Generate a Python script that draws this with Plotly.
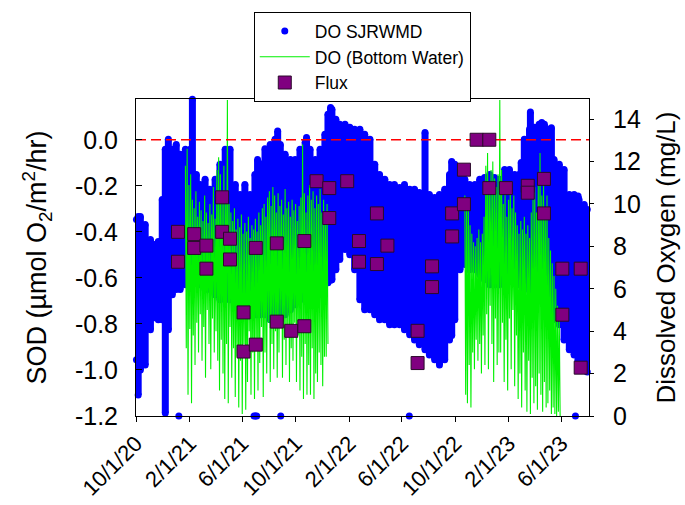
import pandas as pd
import plotly.graph_objects as go

# ---- DO SJRWMD: min / max dissolved oxygen (mg/L) per sampling date ----
sjr_dates = [
    "2020-10-02", "2020-10-06", "2020-10-11", "2020-10-22", "2020-11-03", "2020-11-12", "2020-11-21", "2020-11-30", "2020-12-07", "2020-12-14",
    "2020-12-23", "2021-01-01", "2021-01-10", "2021-01-22", "2021-02-02", "2021-02-07", "2021-02-16", "2021-02-25", "2021-03-08", "2021-03-19",
    "2021-03-31", "2021-04-11", "2021-04-23", "2021-05-04", "2021-05-16", "2021-05-27", "2021-06-07", "2021-06-19", "2021-06-30", "2021-07-06",
    "2021-07-12", "2021-07-23", "2021-08-04", "2021-08-15", "2021-08-21", "2021-08-27", "2021-09-07", "2021-09-19", "2021-09-30", "2021-10-11",
    "2021-10-23", "2021-10-26", "2021-11-03", "2021-11-15", "2021-11-26", "2021-12-07", "2021-12-14", "2021-12-20", "2021-12-23", "2022-01-01",
    "2022-01-10", "2022-01-22", "2022-02-02", "2022-02-13", "2022-02-25", "2022-03-08", "2022-03-20", "2022-03-31", "2022-04-11", "2022-04-23",
    "2022-05-04", "2022-05-15", "2022-05-27", "2022-06-07", "2022-06-19", "2022-06-30", "2022-07-11", "2022-07-24", "2022-08-03", "2022-08-15",
    "2022-08-26", "2022-09-07", "2022-09-18", "2022-09-23", "2022-09-30", "2022-10-12", "2022-10-23", "2022-11-03", "2022-11-15", "2022-11-26",
    "2022-12-07", "2022-12-19", "2022-12-30", "2023-01-10", "2023-01-22", "2023-02-02", "2023-02-14", "2023-02-25", "2023-03-01", "2023-03-08",
    "2023-03-20", "2023-03-22", "2023-03-31", "2023-04-11", "2023-04-17", "2023-04-23", "2023-05-04", "2023-05-09", "2023-05-15", "2023-05-27",
    "2023-06-07", "2023-06-19", "2023-06-30", "2023-07-09", "2023-07-11", "2023-07-23", "2023-07-30",
]
sjr_low = [
    2.65, 0.99, 2.17, 2.41, 4.07, 4.63, 4.54, 4.54, 0.14, 4.07,
    5.72, 5.96, 5.96, 6.19, 6.90, 6.90, 6.43, 6.19, 5.96, 5.96,
    5.72, 5.48, 5.48, 5.48, 5.25, 5.01, 5.01, 4.78, 4.78, 4.78,
    4.78, 4.78, 4.54, 4.54, 4.54, 4.54, 4.78, 5.01, 5.25, 5.48,
    5.48, 5.48, 5.72, 5.96, 6.19, 6.29, 6.29, 6.40, 6.43, 6.90,
    7.38, 7.85, 7.61, 6.90, 5.48, 5.01, 5.01, 4.78, 4.54, 4.54,
    4.30, 4.30, 4.30, 4.07, 3.83, 3.59, 3.36, 3.12, 2.88, 2.65,
    2.41, 2.65, 3.59, 3.80, 4.54, 6.90, 7.14, 6.90, 6.90, 6.67,
    6.43, 6.19, 6.19, 6.19, 6.19, 6.43, 6.43, 6.19, 6.19, 5.96,
    5.96, 5.96, 5.72, 5.48, 5.40, 5.25, 5.01, 4.80, 4.54, 4.30,
    3.59, 3.12, 2.88, 2.60, 2.41, 2.17, 2.08,
]
sjr_high = [
    9.27, 9.41, 9.41, 9.03, 8.32, 8.09, 8.23, 10.21, 12.58, 13.05,
    12.58, 12.81, 12.34, 12.58, 12.58, 14.94, 11.39, 10.92, 11.16, 10.69,
    11.16, 11.87, 12.58, 12.58, 10.92, 10.45, 10.92, 10.45, 11.39, 12.10,
    11.90, 12.60, 12.80, 13.05, 13.44, 12.81, 12.34, 12.10, 12.10, 12.58,
    12.91, 13.13, 12.58, 12.10, 12.58, 13.29, 14.23, 14.55, 14.47, 14.00,
    13.76, 13.76, 13.62, 13.52, 13.52, 13.29, 13.05, 11.87, 11.39, 11.16,
    10.92, 10.92, 10.78, 10.92, 10.69, 10.69, 10.54, 13.37, 10.45, 10.31,
    10.45, 10.69, 11.39, 12.00, 11.87, 11.63, 11.16, 10.92, 10.92, 11.16,
    11.25, 11.39, 11.25, 11.16, 11.63, 11.63, 11.39, 11.40, 11.95, 13.05,
    13.52, 14.34, 13.62, 13.76, 13.84, 13.76, 13.52, 13.60, 12.10, 11.87,
    11.63, 10.45, 10.45, 10.37, 10.21, 9.98, 9.74,
]

# isolated SJRWMD readings at the sensor floor
sjr_floor_dates = ["2021-01-07", "2021-06-28", "2021-07-01", "2021-07-04", "2021-08-28", "2022-06-18", "2023-07-03"]
sjr_floor_do = [0.0, 0.0, 0.0, 0.0, 0.0, 0.0, 0.0]

# ---- DO (Bottom Water): logger record, one reading every 2 days ----
bw_step = "2D"
bw1_start = "2021-01-22"
bw1_do = [
    11.8, 3.2, 12.6, 1.0, 10.9, 4.1, 11.4, 0.6, 10.2, 3.8, 9.8, 2.4, 10.6, 4.4, 9.4, 3.0, 10.1, 4.8, 9.7, 2.6,
    9.2, 4.2, 10.4, 1.8, 9.6, 5.0, 9.1, 3.4, 10.0, 2.2, 9.5, 4.6, 10.8, 3.0, 9.3, 4.0, 11.6, 2.6, 12.2, 1.2,
    11.4, 3.6, 10.6, 2.0, 11.8, 0.8, 10.2, 3.4, 14.9, 0.6, 10.0, 4.2, 9.6, 1.8, 9.2, 3.2, 9.8, 0.9, 8.8, 2.8,
    9.3, 0.4, 8.9, 2.6, 9.5, 0.1, 8.6, 3.4, 9.1, 0.3, 8.7, 1.6, 9.4, 4.0, 8.4, 1.0, 9.0, 3.0, 8.8, 0.8,
    9.3, 3.6, 8.7, 1.2, 9.6, 2.5, 9.0, 4.2, 9.8, 0.9, 10.0, 3.0, 9.4, 2.0, 10.3, 4.4, 10.6, 1.6, 9.9, 3.4,
    10.8, 2.2, 10.4, 4.0, 9.6, 1.8, 10.5, 3.0, 9.9, 4.6, 10.2, 1.8, 9.5, 3.6, 10.7, 2.4, 9.8, 4.2, 10.1, 1.6,
    9.4, 3.2, 10.2, 2.6, 9.7, 4.4, 10.0, 1.6, 9.2, 3.8, 9.9, 1.2, 10.3, 2.8, 12.8, 0.8, 10.5, 3.4, 9.6, 1.0,
    10.4, 2.4, 10.9, 1.0, 10.2, 3.2, 10.6, 0.8, 9.8, 2.0, 10.4, 1.6, 10.0, 3.0, 10.7, 2.4, 9.6, 1.4, 10.2, 2.8,
    9.6, 2.8, 10.0, 3.4,
]
bw2_start = "2022-10-23"
bw2_do = [
    10.4, 1.0, 9.8, 0.6, 10.2, 2.4, 9.0, 0.4, 8.6, 3.0, 8.2, 2.2, 8.0, 3.6, 8.4, 2.6, 8.8, 3.4, 8.2, 2.0,
    8.6, 3.8, 9.4, 2.4, 11.8, 4.8, 12.4, 2.2, 11.0, 5.2, 11.6, 3.4, 12.0, 1.6, 11.2, 4.6, 10.8, 2.4, 11.4, 3.0,
    14.9, 3.0, 11.6, 4.4, 10.0, 1.6, 10.6, 3.6, 9.4, 1.2, 10.2, 4.6, 10.8, 2.2, 9.8, 5.0, 10.4, 1.4, 9.6, 3.8,
    9.0, 0.8, 8.6, 2.0, 9.2, 0.4, 8.8, 3.0, 9.4, 1.2, 8.6, 0.2, 9.0, 2.6, 8.4, 0.1, 9.6, 1.8, 10.2, 0.6,
    10.8, 1.4, 9.6, 0.3, 11.4, 2.0, 12.4, 1.0, 10.4, 0.2, 11.0, 1.6, 9.8, 0.4, 10.4, 0.6, 8.4, 1.2, 7.8, 0.1,
    7.2, 0.4, 6.6, 0.1, 6.0, 0.0, 5.2, 0.2, 4.6, 0.0,
]

# ---- sediment oxygen demand flux (µmol O2/m2/hr) ----
flux_dates = [
    "2021-01-05", "2021-01-05", "2021-02-11", "2021-02-11", "2021-03-11", "2021-03-11",
    "2021-04-16", "2021-04-16", "2021-05-04", "2021-05-04", "2021-06-04", "2021-06-04",
    "2021-07-02", "2021-07-02", "2021-08-19", "2021-08-19", "2021-09-21", "2021-10-21",
    "2021-10-21", "2021-11-18", "2021-12-17", "2021-12-17", "2022-01-27", "2022-02-23",
    "2022-02-23", "2022-04-05", "2022-04-05", "2022-04-29", "2022-07-07", "2022-07-07",
    "2022-08-09", "2022-08-09", "2022-09-24", "2022-09-24", "2022-10-21", "2022-10-21",
    "2022-11-19", "2022-12-18", "2022-12-18", "2023-01-25", "2023-03-16", "2023-03-16",
    "2023-04-22", "2023-04-22", "2023-06-03", "2023-06-03", "2023-07-15", "2023-07-15",
]
flux_sod = [
    -0.40, -0.53, -0.41, -0.47, -0.46, -0.56,
    -0.25, -0.40, -0.43, -0.52, -0.75, -0.92,
    -0.47, -0.89, -0.45, -0.79, -0.83, -0.44,
    -0.81, -0.18, -0.21, -0.34, -0.18, -0.44,
    -0.53, -0.32, -0.54, -0.46, -0.83, -0.97,
    -0.55, -0.64, -0.32, -0.42, -0.13, -0.28,
    0.00, 0.00, -0.21, -0.21, -0.20, -0.23,
    -0.17, -0.32, -0.56, -0.76, -0.56, -0.99,
]

# ---- axes ----
x_range = ["2020-10-01", "2023-08-03"]
sod_range = [-1.2, 0.177]
sod_ticks = [-1.2, -1.0, -0.8, -0.6, -0.4, -0.2, 0.0]
do_range = [0, 14.95]
do_ticks = [0, 2, 4, 6, 8, 10, 12, 14]

FONT = "Liberation Sans, Arial, sans-serif"
BLUE = "#0000ff"
GREEN = "#00f000"
PURPLE = "#800080"

# vertical min-max bars for the SJRWMD record
bar_x, bar_y = [], []
for d, lo, hi in zip(sjr_dates, sjr_low, sjr_high):
    bar_x += [d, d, None]
    bar_y += [lo, hi, None]

bw1_dates = pd.date_range(bw1_start, periods=len(bw1_do), freq=bw_step)
bw2_dates = pd.date_range(bw2_start, periods=len(bw2_do), freq=bw_step)
bw_x = list(bw1_dates) + [None] + list(bw2_dates)
bw_y = bw1_do + [None] + bw2_do

fig = go.Figure()

fig.add_trace(go.Scatter(
    x=bar_x, y=bar_y, mode="lines", yaxis="y",
    line=dict(color=BLUE, width=7), showlegend=False, hoverinfo="skip",
))
fig.add_trace(go.Scatter(
    x=sjr_dates + sjr_dates + sjr_floor_dates,
    y=sjr_low + sjr_high + sjr_floor_do,
    mode="markers", yaxis="y", name="DO SJRWMD",
    marker=dict(color=BLUE, size=7), cliponaxis=False,
))
fig.add_trace(go.Scatter(
    x=bw_x, y=bw_y, mode="lines", yaxis="y", name="DO (Bottom Water)",
    line=dict(color=GREEN, width=1.1), connectgaps=False,
))
fig.add_trace(go.Scatter(
    x=x_range, y=[0, 0], mode="lines", yaxis="y2", showlegend=False,
    line=dict(color="#ff0000", width=1.5, dash="10px,5px"), hoverinfo="skip",
))
fig.add_trace(go.Scatter(
    x=flux_dates, y=flux_sod, mode="markers", yaxis="y2", name="Flux",
    marker=dict(symbol="square", size=13, color=PURPLE,
                line=dict(color="#2a0a2a", width=1)),
    cliponaxis=False,
))

fig.update_layout(
    width=685, height=505,
    margin=dict(l=136, r=96, t=99, b=89),
    paper_bgcolor="white", plot_bgcolor="white",
    font=dict(family=FONT, color="black"),
    showlegend=True,
    legend=dict(
        x=0.26, y=1.274, xanchor="left", yanchor="top",
        bgcolor="white", bordercolor="black", borderwidth=1,
        font=dict(size=17.5, family=FONT, color="black"),
        itemwidth=50, tracegroupgap=0,
    ),
    xaxis=dict(
        type="date", range=x_range, tick0="2020-10-01", dtick="M4",
        tickformat="%-m/%-d/%y", tickangle=-45, automargin=False,
        tickfont=dict(size=22),
        ticks="outside", ticklen=5, tickcolor="black",
        showline=True, linecolor="black", linewidth=1, mirror=True,
        showgrid=False, zeroline=False,
    ),
    yaxis=dict(
        side="right", range=do_range, tickvals=do_ticks, automargin=False,
        tickfont=dict(size=25), ticklabelstandoff=14,
        ticks="outside", ticklen=4, tickcolor="black",
        showline=True, linecolor="black", linewidth=1,
        showgrid=False, zeroline=False,
        title=dict(text="Dissolved Oxygen (mg/L)", font=dict(size=26), standoff=16),
    ),
    yaxis2=dict(
        overlaying="y", side="left", range=sod_range, automargin=False,
        tickvals=sod_ticks, ticktext=[f"{abs(v):.1f}" if v == 0 else f"{v:.1f}" for v in sod_ticks],
        tickfont=dict(size=25), ticklabelstandoff=12,
        ticks="inside", ticklen=6, tickcolor="black",
        showline=True, linecolor="black", linewidth=1,
        showgrid=False, zeroline=False,
        title=dict(text="SOD (µmol O<sub>2</sub>/m<sup>2</sup>/hr)", font=dict(size=27), standoff=20),
    ),
)

fig.write_html("out.html")
